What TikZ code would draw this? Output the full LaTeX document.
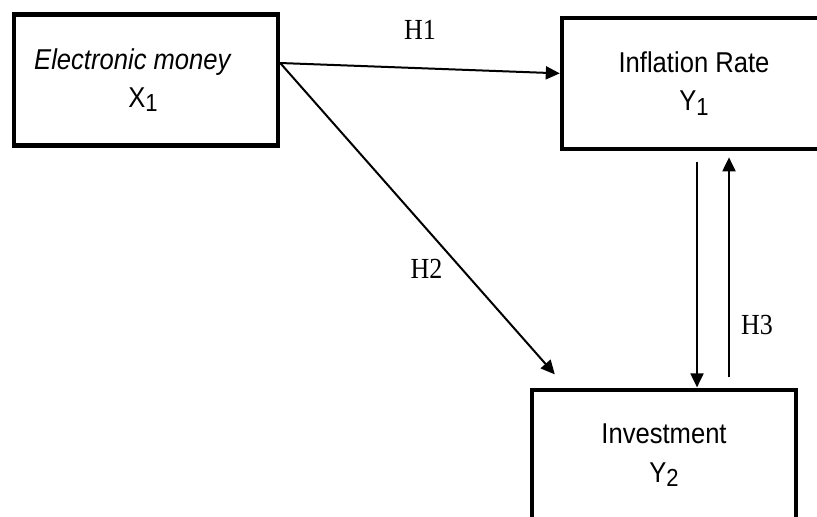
\documentclass[tikz,border=0pt]{standalone}
\usepackage{fontspec}
\setmainfont{Liberation Serif}
\setsansfont{Liberation Sans}
\usetikzlibrary{arrows.meta, positioning}

\newcommand{\subidx}[1]{\raisebox{-0.3ex}{\fontsize{11}{12}\selectfont #1}}

\begin{document}
\begin{tikzpicture}[
  >={Triangle[length=7pt,width=6.5pt]}, on grid,
  var/.style={draw, line width=2.2pt, yscale=1.12, transform shape,
    minimum width=132pt, minimum height=58.5pt,
    align=center, font=\sffamily\fontsize{12.8}{17}\selectfont},
  link/.style={->, line width=1pt},
  hyp/.style={font=\fontsize{13}{15}\selectfont, inner sep=0pt, yscale=1.12, transform shape}
]

% 描画範囲
\clip (-73pt,40pt) rectangle (335.5pt,-218pt);

% 変数ノード
\node (em) [var] {\textit{Electronic money}\hspace*{13pt}\\X\subidx{1}\hspace*{3pt}};
\node (infl) [var, right=274pt of em, yshift=-1.5pt] {Inflation Rate\\Y\subidx{1}};
\node (inv) [var, below left=186pt and 15pt of infl] {Investment\\Y\subidx{2}};

% 矢印の端点
\coordinate (src) at ([yshift=8.5pt]em.east);
\coordinate (h2tip) at ([xshift=12.5pt,yshift=6.5pt]inv.north west);
\coordinate (down) at ([xshift=1.5pt,yshift=-5.5pt]infl.south);
\coordinate (up) at ([xshift=17.5pt,yshift=-3pt]infl.south);
\path (up |- inv.north) ++(0,5pt) coordinate (upfoot);

% 仮説の矢印
\draw[link] (src) -- ([yshift=5pt]infl.west) node[hyp, midway, yshift=17pt] {H1};
\draw[link] (src) -- (h2tip) node[hyp, pos=0.66, xshift=-17.5pt] {H2};
\draw[link] (down) -- (down |- inv.north);
\draw[link] (upfoot) -- (up) node[hyp, pos=0.24, xshift=14pt] {H3};

\end{tikzpicture}
\end{document}
